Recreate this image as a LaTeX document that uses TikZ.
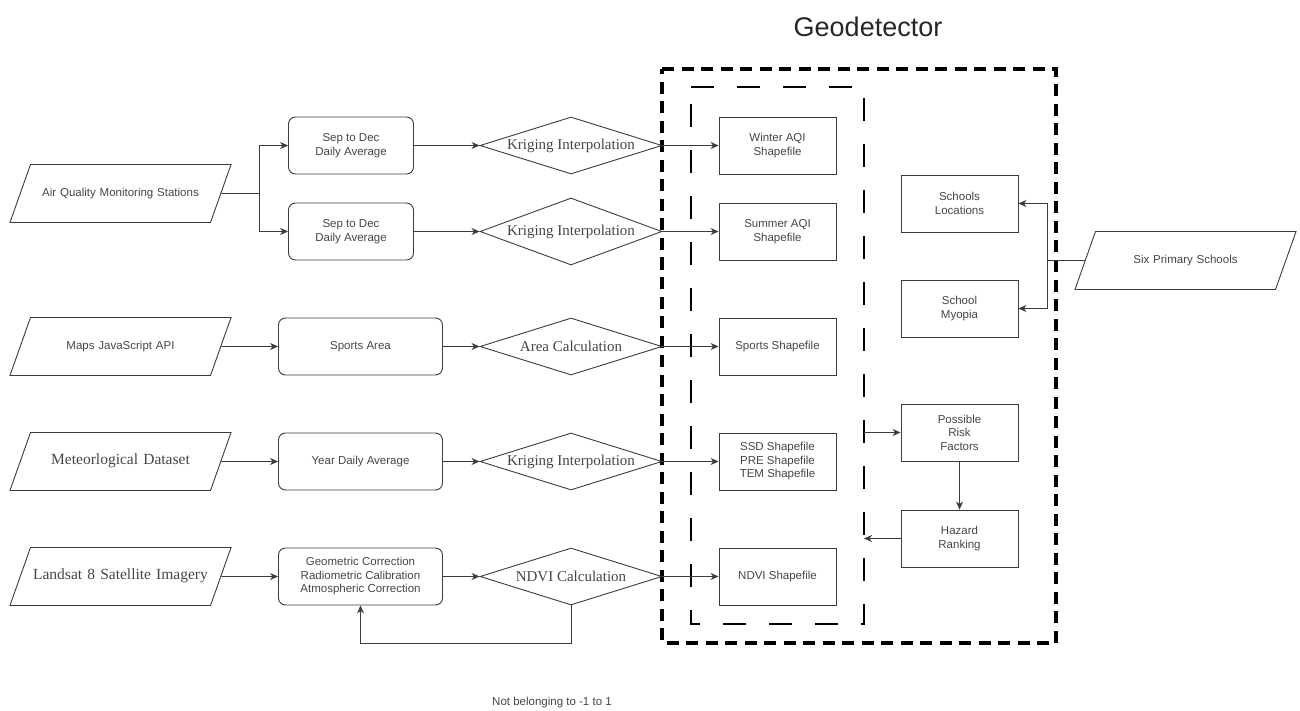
\documentclass[tikz,border=0pt]{standalone}
\usepackage{fontspec}
\setmainfont{Liberation Sans}
\newfontfamily\timesf{Liberation Serif}
\usetikzlibrary{shapes.geometric,arrows.meta}
\definecolor{linegray}{RGB}{60,60,60}
\definecolor{txtgray}{RGB}{70,70,70}
\tikzset{
  lbl/.style={font=\fontsize{11.5}{13.5}\selectfont, text=txtgray, align=center},
  datain/.style={lbl, trapezium, trapezium left angle=70.5, trapezium right angle=109.5,
    draw=linegray, line width=0.9pt, text width=159pt, text height=8pt, text depth=2.5pt,
    inner xsep=10.5pt, inner ysep=23.75pt},
  procbox/.style={lbl, draw=linegray, line width=0.9pt, rounded corners=7pt,
    minimum height=57pt, inner sep=0pt},
  calcbox/.style={diamond, draw=linegray, line width=0.9pt, aspect=3.4, inner sep=0pt,
    minimum width=182pt, minimum height=57pt, text=txtgray,
    font=\timesf\fontsize{15}{17}\selectfont},
  shpbox/.style={lbl, draw=linegray, line width=0.9pt, minimum width=117pt,
    minimum height=57pt, inner sep=0pt},
  flow/.style={draw=linegray, line width=0.9pt, -{Stealth[length=8pt,width=7pt,inset=2.5pt]}},
  link/.style={draw=linegray, line width=0.9pt},
  outerdash/.style={line width=3.5pt, dash pattern=on 12pt off 7.5pt},
  innerdash/.style={line width=1.5pt, dash pattern=on 23pt off 23pt}
}
\begin{document}
\begin{tikzpicture}[x=1pt,y=-1pt]
  \useasboundingbox[fill=white] (0,0) rectangle (1300,711);
  % detector frames
  \draw[outerdash] (662,69) -- (1056,69) -- (1056,643) -- (662,643) -- cycle;
  \draw[innerdash] (691,87) -- (864,87) -- (864,624) -- (691,624) -- cycle;
  \node[font=\fontsize{27}{30}\selectfont, text=black!85] (geotitle) at (868,27) {Geodetector};

  % input data
  \node[datain] (aqs) at (120.5,193.5) {Air Quality Monitoring Stations};
  \node[datain] (maps) at (120.5,346.5) {Maps JavaScript API};
  \node[datain, font=\timesf\fontsize{15.5}{18}\selectfont] (meteo) at (120.5,461.5) {Meteorlogical Dataset};
  \node[datain, font=\timesf\fontsize{15.5}{18}\selectfont] (landsat) at (120.5,576.5)
    {\makebox[159pt]{Landsat 8 Satellite Imagery}};
  \node[datain] (six) at (1185.5,260.5) {Six Primary Schools};

  % preprocessing
  \node[procbox, minimum width=125pt] (sdA) at (351,145.5) {Sep to Dec\\Daily Average};
  \node[procbox, minimum width=125pt] (sdB) at (351,231.5) {Sep to Dec\\Daily Average};
  \node[procbox, minimum width=164pt] (sports) at (360.5,346.5) {Sports Area};
  \node[procbox, minimum width=164pt] (yeardaily) at (360.5,461.5) {Year Daily Average};
  \node[procbox, minimum width=164pt] (preproc) at (360.5,576.5)
    {Geometric Correction\\Radiometric Calibration\\Atmospheric Correction};

  % calculations
  \node[calcbox] (kigA) at (571,145.5) {Kriging Interpolation};
  \node[calcbox, minimum height=67pt] (kigB) at (571,231.5) {Kriging Interpolation};
  \node[calcbox] (areacalc) at (571,346.5) {Area Calculation};
  \node[calcbox] (kigC) at (571,461.5) {Kriging Interpolation};
  \node[calcbox] (ndvicalc) at (571,576.5) {NDVI Calculation};

  % shapefiles
  \node[shpbox] (winter) at (777.5,145.5) {Winter AQI\\Shapefile};
  \node[shpbox] (summer) at (777.5,231.5) {Summer AQI\\Shapefile};
  \node[shpbox] (sportshp) at (777.5,346.5) {Sports Shapefile};
  \node[shpbox] (climshp) at (777.5,461.5) {SSD Shapefile\\PRE Shapefile\\TEM Shapefile};
  \node[shpbox] (ndvishp) at (777.5,576.5) {NDVI Shapefile};

  % schools and risk
  \node[shpbox] (schloc) at (959.5,203.5) {Schools\\Locations};
  \node[shpbox] (myopia) at (959.5,308.5) {School\\Myopia};
  \node[shpbox] (risk) at (959.5,432.5) {Possible\\Risk\\Factors};
  \node[shpbox] (hazard) at (959.5,538.5) {Hazard\\Ranking};

  % connectors
  \coordinate (aqsplit) at (259.5,193.5);
  \draw[link] (aqs.east) -- (aqsplit);
  \draw[flow] (aqsplit) |- (sdA.west);
  \draw[flow] (aqsplit) |- (sdB.west);
  \foreach \a/\b in {maps/sports, meteo/yeardaily, landsat/preproc,
      sdA/kigA, sdB/kigB, sports/areacalc, yeardaily/kigC, preproc/ndvicalc,
      kigA/winter, kigB/summer, areacalc/sportshp, kigC/climshp, ndvicalc/ndvishp}
    \draw[flow] (\a.east) -- (\b.west);
  \draw[flow] (ndvicalc.south) -- ++(0,38) -| (preproc.south);
  \node[lbl] (notrange) at (552,703) {Not belonging to -1 to 1};

  \coordinate (sixsplit) at (1047,260.5);
  \draw[link] (six.west) -- (sixsplit);
  \draw[flow] (sixsplit) |- (schloc.east);
  \draw[flow] (sixsplit) |- (myopia.east);

  \coordinate (detout) at (864,432.5);
  \coordinate (detin) at (864,538.5);
  \draw[flow] (detout) -- (risk.west);
  \draw[flow] (risk) -- (hazard);
  \draw[flow] (hazard.west) -- (detin);
\end{tikzpicture}
\end{document}
